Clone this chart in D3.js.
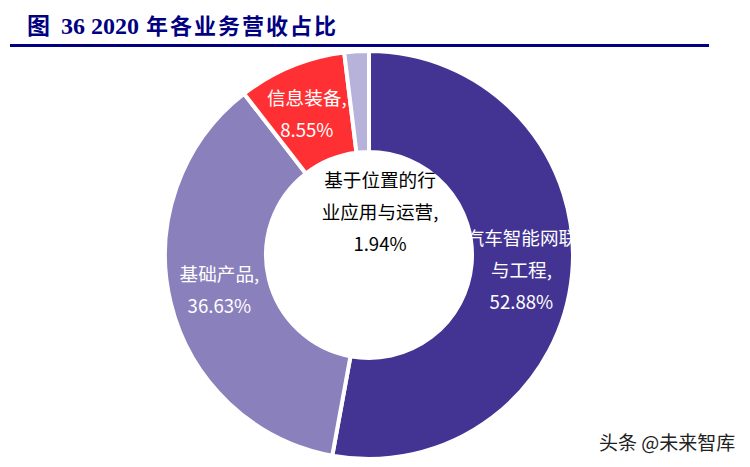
<!DOCTYPE html>
<html>
<head>
<meta charset="utf-8">
<style>
html, body { margin: 0; padding: 0; background: #fff; }
svg { display: block; }
</style>
<script src="https://cdnjs.cloudflare.com/ajax/libs/d3/7.8.5/d3.min.js"></script>
</head>
<body>
<div id="chart"></div>
<script>
var categories = ['汽车智能网联与工程', '基础产品', '信息装备', '基于位置的行业应用与运营'];
var shares = [52.88, 36.63, 8.55, 1.94];
var colors = ['#433494', '#8A80BC', '#FF3033', '#B7B2DA'];
var labelLines = [
    ['汽车智能网联', '与工程,', '52.88%'],
    ['基础产品,', '36.63%'],
    ['信息装备,', '8.55%'],
    ['基于位置的行', '业应用与运营,', '1.94%']
];

var width = 750,
    height = 467,
    cx = 369,
    cy = 255,
    outer = 204,
    inner = 103;

var cjk = '"Noto Sans CJK SC", "Noto Sans", sans-serif';

var svg = d3.select('#chart').append('svg')
    .attr('width', width)
    .attr('height', height)
    .attr('viewBox', '0 0 ' + width + ' ' + height);

// title and rule
var title = svg.append('text')
    .attr('x', 27)
    .attr('y', 34)
    .attr('fill', '#000080')
    .style('font-family', '"Liberation Serif", ' + cjk)
    .style('font-size', '23px')
    .style('font-weight', 'bold');
title.append('tspan').text('图');
title.append('tspan').attr('x', 61).style('font-size', '24px').text('36 2020');
title.append('tspan').attr('x', 146).style('font-size', '22px').style('letter-spacing', '2px').text('年各业务营收占比');

svg.append('line')
    .attr('x1', 10)
    .attr('x2', 709)
    .attr('y1', 45.5)
    .attr('y2', 45.5)
    .attr('stroke', '#000080')
    .attr('stroke-width', 3);

// donut
var pie = d3.pie().sort(null).value(function(d) { return d; });
var arc = d3.arc().innerRadius(inner).outerRadius(outer);
var color = d3.scaleOrdinal().domain(categories).range(colors);

var g = svg.append('g')
    .attr('transform', 'translate(' + cx + ',' + cy + ')');

g.selectAll('path')
    .data(pie(shares))
    .enter().append('path')
    .attr('d', arc)
    .attr('fill', function(d, i) { return color(categories[i]); })
    .attr('stroke', '#fff')
    .attr('stroke-width', 4);

// labels, placed relative to the ring
var labelRadius = [153, 153, 153, 0];
var labelShift = [[0, 2], [-1, 0], [-4, 1], [11, -42]];
var labelFill = ['#fff', '#fff', '#fff', '#000'];
var lineStep = 32;

var labels = g.selectAll('text.label')
    .data(pie(shares))
    .enter().append('text')
    .attr('class', 'label')
    .attr('text-anchor', 'middle')
    .attr('fill', function(d, i) { return labelFill[i]; })
    .style('font-family', cjk)
    .style('font-size', '18.6px');

labels.each(function(d, i) {
    var mid = (d.startAngle + d.endAngle) / 2,
        x = Math.sin(mid) * labelRadius[i] + labelShift[i][0],
        y = -Math.cos(mid) * labelRadius[i] + labelShift[i][1],
        lines = labelLines[i],
        top = y - (lines.length - 1) * lineStep / 2 + 6;
    d3.select(this).selectAll('tspan')
        .data(lines)
        .enter().append('tspan')
        .attr('x', x)
        .attr('y', function(t, k) { return top + k * lineStep; })
        .text(function(t) { return t; });
});

// watermark
svg.append('text')
    .attr('x', 599)
    .attr('y', 450)
    .attr('fill', '#222')
    .style('font-family', cjk)
    .style('font-size', '19px')
    .text('头条 @未来智库');
</script>
</body>
</html>
